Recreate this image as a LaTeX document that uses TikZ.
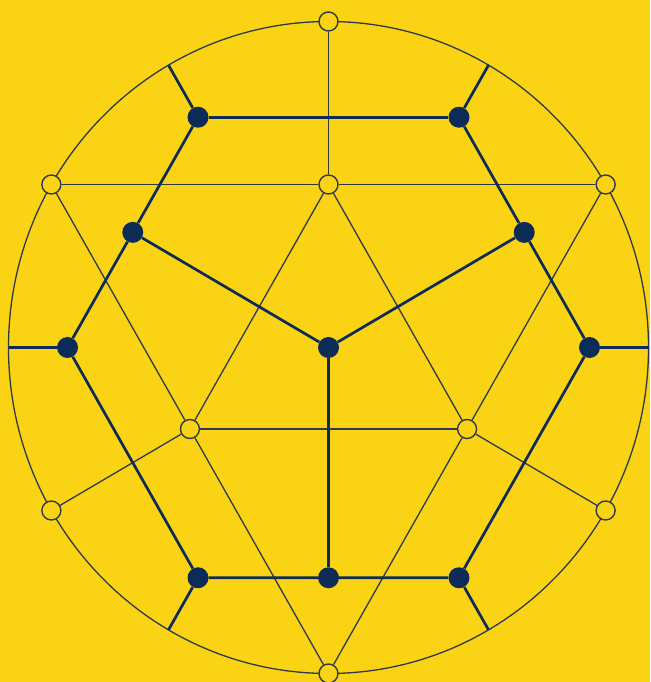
\documentclass[tikz,border=0pt]{standalone}
\definecolor{bgyellow}{HTML}{FAD314}
\definecolor{navy}{HTML}{0D2B57}
\definecolor{fineink}{HTML}{2E3A48}
\begin{document}
\begin{tikzpicture}[x=1pt,y=1pt]
\fill[bgyellow] (0,0) rectangle (650,682);
\useasboundingbox (0,0) rectangle (650,682);
\begin{scope}[shift={(328.5,334.5)}, x=320pt, y=326pt,
  dot/.style={circle,fill=navy,minimum size=21pt,inner sep=0pt},
  ring/.style={circle,fill=bgyellow,draw=fineink,line width=1.4pt,minimum size=19pt,inner sep=0pt},
  fineline/.style={draw=fineink,line width=1.3pt},
  boldline/.style={draw=navy,line width=2.7pt}]
\draw[fineline] (0,0) ellipse [x radius=320pt, y radius=326pt];
% light (hollow) nodes
\node[ring] (T) at (90:1) {};
\node[ring] (B) at (270:1) {};
\node[ring] (UL) at (150:1) {};
\node[ring] (UR) at (30:1) {};
\node[ring] (LL) at (210:1) {};
\node[ring] (LR) at (330:1) {};
\node[ring] (CT) at (90:0.5) {};
\node[ring] (IL) at (210:0.5) {};
\node[ring] (IR) at (330:0.5) {};
% dark nodes
\node[dot] (O) at (0,0) {};
\node[dot] (H0) at (0:0.8156) {};
\node[dot] (H60) at (60:0.8156) {};
\node[dot] (H120) at (120:0.8156) {};
\node[dot] (H180) at (180:0.8156) {};
\node[dot] (H240) at (240:0.8156) {};
\node[dot] (H300) at (300:0.8156) {};
\node[dot] (M30) at (30:0.7063) {};
\node[dot] (M150) at (150:0.7063) {};
\node[dot] (M270) at (270:0.7063) {};
% stub ends on the circle
\coordinate (S0) at (0:1);
\coordinate (S60) at (60:1);
\coordinate (S120) at (120:1);
\coordinate (S180) at (180:1);
\coordinate (S240) at (240:1);
\coordinate (S300) at (300:1);
% fine network
\draw[fineline] (T) -- (CT);
\draw[fineline] (UL) -- (CT);
\draw[fineline] (CT) -- (UR);
\draw[fineline] (UL) -- (IL);
\draw[fineline] (IL) -- (B);
\draw[fineline] (UR) -- (IR);
\draw[fineline] (IR) -- (B);
\draw[fineline] (CT) -- (IL);
\draw[fineline] (CT) -- (IR);
\draw[fineline] (IL) -- (IR);
\draw[fineline] (IL) -- (LL);
\draw[fineline] (IR) -- (LR);
% bold network
\draw[boldline] (O) -- (M150);
\draw[boldline] (O) -- (M30);
\draw[boldline] (O) -- (M270);
\draw[boldline] (H120) -- (H60);
\draw[boldline] (H120) -- (M150);
\draw[boldline] (M150) -- (H180);
\draw[boldline] (H180) -- (H240);
\draw[boldline] (H240) -- (M270);
\draw[boldline] (M270) -- (H300);
\draw[boldline] (H300) -- (H0);
\draw[boldline] (H0) -- (M30);
\draw[boldline] (M30) -- (H60);
\draw[boldline] (H0) -- (S0);
\draw[boldline] (H60) -- (S60);
\draw[boldline] (H120) -- (S120);
\draw[boldline] (H180) -- (S180);
\draw[boldline] (H240) -- (S240);
\draw[boldline] (H300) -- (S300);
\end{scope}
\end{tikzpicture}
\end{document}
